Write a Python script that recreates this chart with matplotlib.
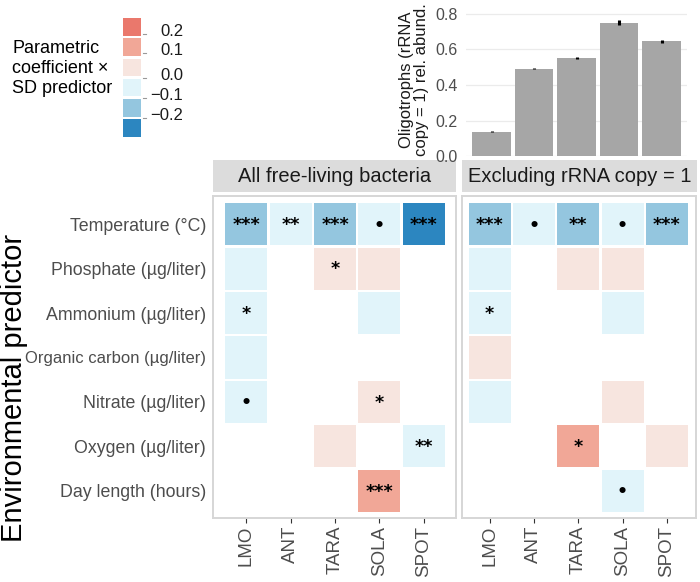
import matplotlib
matplotlib.use("Agg")
import matplotlib.pyplot as plt
from matplotlib.patches import Rectangle
from matplotlib.colors import BoundaryNorm, ListedColormap
from matplotlib.transforms import offset_copy, blended_transform_factory

plt.rcParams['font.family'] = ['Liberation Sans', 'DejaVu Sans']

# data
sites = ['LMO', 'ANT', 'TARA', 'SOLA', 'SPOT']
predictors = ['Temperature (°C)', 'Phosphate (µg/liter)', 'Ammonium (µg/liter)',
              'Organic carbon (µg/liter)', 'Nitrate (µg/liter)', 'Oxygen (µg/liter)',
              'Day length (hours)']
panels = ['All free-living bacteria', 'Excluding rRNA copy = 1']

# oligotroph relative abundance (top bars)
oligo_abund = [0.138, 0.493, 0.551, 0.750, 0.647]
oligo_err = [0.003, 0.005, 0.004, 0.014, 0.009]

# parametric coefficient x SD predictor, None = not in model
coef_all = [
    [-0.14, -0.06, -0.16, -0.04, -0.24],
    [-0.03, None, 0.04, 0.03, None],
    [-0.05, None, None, -0.02, None],
    [-0.04, None, None, None, None],
    [-0.05, None, None, 0.05, None],
    [None, None, 0.03, None, -0.07],
    [None, None, None, 0.16, None],
]
sig_all = [
    ['***', '**', '***', '•', '***'],
    ['', '', '*', '', ''],
    ['*', '', '', '', ''],
    ['', '', '', '', ''],
    ['•', '', '', '*', ''],
    ['', '', '', '', '**'],
    ['', '', '', '***', ''],
]
coef_excl = [
    [-0.15, -0.05, -0.13, -0.04, -0.12],
    [-0.04, None, 0.03, 0.04, None],
    [-0.05, None, None, -0.03, None],
    [0.04, None, None, None, None],
    [-0.03, None, None, 0.03, None],
    [None, None, 0.14, None, 0.04],
    [None, None, None, -0.06, None],
]
sig_excl = [
    ['***', '•', '**', '•', '***'],
    ['', '', '', '', ''],
    ['*', '', '', '', ''],
    ['', '', '', '', ''],
    ['', '', '', '', ''],
    ['', '', '*', '', ''],
    ['', '', '', '•', ''],
]

# colour bins, low to high
bin_edges = [-0.3, -0.2, -0.1, 0.0, 0.1, 0.2, 0.3]
bin_colors = ['#2C86C0', '#94C6DF', '#E1F4FA', '#F7E5DF', '#F1A797', '#EA786C']
legend_labels = ['0.2', '0.1', '0.0', '\u22120.1', '\u22120.2']
cmap = ListedColormap(bin_colors)
norm = BoundaryNorm(bin_edges, cmap.N)

W, H = 700, 582
fig = plt.figure(figsize=(W / 100, H / 100), dpi=100)


def box(x0, y0, x1, y1):
    return [x0 / W, 1 - y1 / H, (x1 - x0) / W, (y1 - y0) / H]


# heatmap panels
panel_boxes = [(213, 196, 456, 518), (462, 196, 696, 518)]
panel_xlims = [(0.252, 5.725), (0.376, 5.658)]
for k, (coef, sig) in enumerate([(coef_all, sig_all), (coef_excl, sig_excl)]):
    x0, y0, x1, y1 = panel_boxes[k]
    ax = fig.add_axes(box(x0, y0, x1, y1))
    star_tr = offset_copy(ax.transData, fig=fig, y=-0.6, units='points')
    dot_tr = offset_copy(ax.transData, fig=fig, y=-1.0, units='points')
    for i in range(len(predictors)):
        for j in range(len(sites)):
            v = coef[i][j]
            if v is None:
                continue
            ax.add_patch(Rectangle((j + 1 - 0.473, i - 0.473), 0.946, 0.946,
                                   facecolor=cmap(norm(v)), edgecolor='none'))
            s = sig[i][j]
            if s:
                tr = dot_tr if s == '•' else star_tr
                ax.text(j + 1, i, s, ha='center', va='center', fontsize=12.5,
                        fontweight='bold', family='DejaVu Sans', color='black',
                        transform=tr)
    ax.set_xlim(*panel_xlims[k])
    ax.set_ylim(6.613, -0.635)
    ax.set_xticks(range(1, len(sites) + 1))
    ax.set_xticklabels(sites, rotation=90, fontsize=13.5, color='#4D4D4D')
    ax.tick_params(axis='x', length=3.5, width=0.8, color='#333333', pad=2)
    ax.set_yticks(range(len(predictors)))
    if k == 0:
        ax.set_yticklabels(predictors, fontsize=12.8, color='#4D4D4D')
        # this one is set narrower in the original
        ax.get_yticklabels()[3].set_fontsize(12.0)
        ax.tick_params(axis='y', length=0, pad=5)
    else:
        ax.set_yticklabels([])
        ax.tick_params(axis='y', length=0)
    for sp in ax.spines.values():
        sp.set_color('#D6D6D6')
        sp.set_linewidth(1.4)

    # strip
    sx = fig.add_axes(box(x0, 160, x1 + (1 if k == 1 else 0), 192))
    sx.set_facecolor('#DCDCDC')
    sx.set_xticks([])
    sx.set_yticks([])
    for sp in sx.spines.values():
        sp.set_visible(False)
    sx.text(0.5, 0.47, panels[k], ha='center', va='center', fontsize=14.5,
            color='#1A1A1A', transform=sx.transAxes)

fig.text(14.5 / W, 1 - 388 / H, 'Environmental predictor', rotation=90,
         ha='center', va='center', fontsize=21, color='black')

# top bar chart
bx = fig.add_axes(box(466, 0, 687, 156.3))
xs = range(1, len(oligo_abund) + 1)
bx.bar(xs, oligo_abund, width=0.9, color='#A6A6A6', zorder=2)
bx.errorbar(xs, oligo_abund, yerr=oligo_err, fmt='none', ecolor='black',
            elinewidth=2.2, capsize=0, zorder=3)
bx.set_xlim(0.4, 5.6)
bx.set_ylim(0, 0.878)
bx.set_yticks([0.0, 0.2, 0.4, 0.6, 0.8])
bx.set_yticklabels(['0.0', '0.2', '0.4', '0.6', '0.8'], fontsize=11.5, color='#4D4D4D')
bx.set_xticks([])
bx.tick_params(axis='y', length=0, pad=6)
bx.grid(axis='y', color='#EBEBEB', linewidth=0.9, zorder=0)
bx.set_axisbelow(True)
for sp in bx.spines.values():
    sp.set_visible(False)
fig.text(414 / W, 1 - 80 / H, 'Oligotrophs (rRNA\ncopy = 1) rel. abund.',
         rotation=90, ha='center', va='center', fontsize=12, linespacing=1.05,
         color='#1A1A1A')

# legend
lx = fig.add_axes(box(123, 17, 141, 138))
for n, c in enumerate(reversed(bin_colors)):
    lx.add_patch(Rectangle((0, n + 0.06), 1, 0.88, facecolor=c, edgecolor='none'))
lx.set_xlim(0, 1)
lx.set_ylim(6, 0)
lx.axis('off')
tick_pos = [0.84, 1.78, 3.02, 4.01, 5.0]
ltr = blended_transform_factory(lx.transAxes, lx.transData)
for tp, lab in zip(tick_pos, legend_labels):
    lx.plot([1.1, 1.3], [tp, tp], color='#999999', lw=0.8, transform=ltr, clip_on=False)
    lx.text(3.35, tp - 0.12, lab, ha='right', va='center', fontsize=12,
            color='#1A1A1A', transform=ltr)
fig.text(12 / W, 1 - 68.5 / H, 'Parametric\ncoefficient \u00d7\nSD predictor',
         ha='left', va='center', fontsize=13, color='black')

fig.savefig('out.png', dpi=100)
